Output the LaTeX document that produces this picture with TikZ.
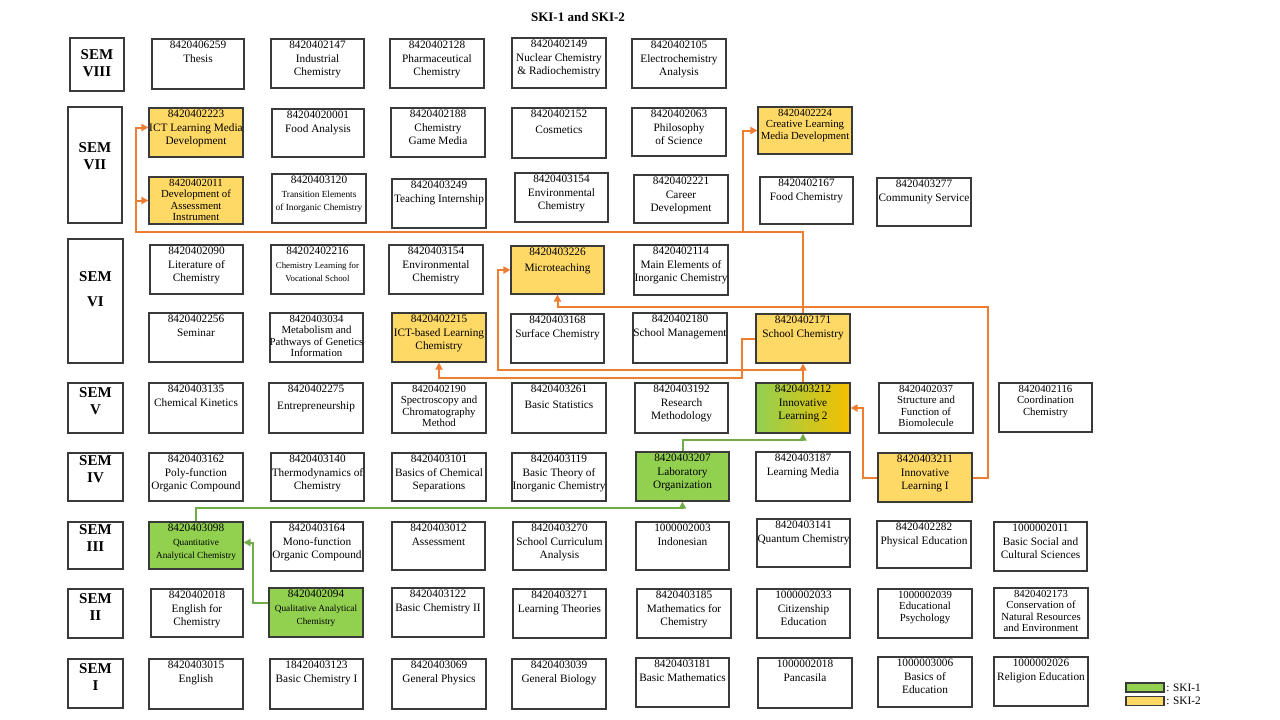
\documentclass[tikz,border=0pt]{standalone}
\usepackage{fontspec}
\setmainfont{Liberation Serif}
\usetikzlibrary{arrows.meta,calc}
\definecolor{skigreen}{HTML}{92D050}
\definecolor{skiyellow}{HTML}{FFD966}
\definecolor{skigold}{HTML}{F5C000}
\definecolor{orangeline}{HTML}{ED7D31}
\definecolor{greenline}{HTML}{70AD47}
\definecolor{boxline}{HTML}{3A3A3A}
\newcommand{\crsbox}[8][]{%
  \pgfmathsetmacro{\crsw}{#5-#3}%
  \pgfmathsetmacro{\crsh}{#6-#4}%
  \node[cbox,minimum width=\crsw pt,minimum height=\crsh pt,#1,label={[lbl,#7]north:{#8}}] (#2) at ({(#3+#5)/2},{(#4+#6)/2}) {};%
}
\newcommand{\sembox}[7]{%
  \pgfmathsetmacro{\crsw}{#4-#2}%
  \pgfmathsetmacro{\crsh}{#5-#3}%
  \node[cbox,minimum width=\crsw pt,minimum height=\crsh pt,label={[semlbl,yshift=#6pt]center:{#7}}] (#1) at ({(#2+#4)/2},{(#3+#5)/2}) {};%
}
\tikzset{
  cbox/.style={draw=boxline, line width=1.1pt, fill=white, inner sep=0pt},
  lbl/.style={anchor=north, inner sep=2.6pt, align=center, font=\fontsize{11.3}{13.4}\selectfont},
  tightf/.style={font=\fontsize{10.8}{11.4}\selectfont},
  semlbl/.style={anchor=center, align=center, font=\bfseries\fontsize{15}{17}\selectfont, inner sep=0pt},
  ski1/.style={fill=skigreen},
  ski2/.style={fill=skiyellow},
  oarrow/.style={draw=orangeline, line width=2pt, -{Triangle[length=7pt,width=7pt]}},
  garrow/.style={draw=greenline, line width=2pt, -{Triangle[length=7pt,width=7pt]}},
  legtxt/.style={anchor=west, inner sep=1.5pt, font=\fontsize{11.3}{13}\selectfont},
}
\begin{document}
\begin{tikzpicture}[x=1pt,y=-1pt]
\fill[white] (0,0) rectangle (1280,720);
\useasboundingbox (0,0) rectangle (1280,720);

\node[font=\bfseries\fontsize{13}{15}\selectfont, inner sep=0pt] (title) at (578,17) {SKI-1 and SKI-2};

% semester boxes
\sembox{sem8}{70}{38}{124}{91}{1.5}{SEM\\VIII}
\sembox{sem7}{68}{107}{122}{223}{9}{SEM\\VII}
\sembox{sem6}{68}{239}{123}{363}{11.5}{SEM\\[8pt]VI}
\sembox{sem5}{68}{383}{123}{433}{7}{SEM\\V}
\sembox{sem4}{68}{453}{123}{501}{7.5}{SEM\\IV}
\sembox{sem3}{68}{522}{123}{569}{7}{SEM\\III}
\sembox{sem2}{68}{589}{123}{638}{6}{SEM\\II}
\sembox{sem1}{68}{659}{123}{708}{6.5}{SEM\\I}

% SEM VIII
\crsbox{thesis}{152}{39}{244}{89}{}{8420406259\\Thesis}
\crsbox{indchem}{271}{39}{364}{88}{}{8420402147\\Industrial\\Chemistry}
\crsbox{pharm}{390}{39}{484}{88}{}{8420402128\\Pharmaceutical\\Chemistry}
\crsbox{nuclear}{512}{38}{606}{88}{}{8420402149\\Nuclear Chemistry\\\& Radiochemistry}
\crsbox{electro}{632}{39}{726}{88}{}{8420402105\\Electrochemistry\\Analysis}

% SEM VII
\crsbox[ski2]{ictlmd}{149}{108}{243}{157}{}{8420402223\\ICT Learning Media\\Development}
\crsbox{foodan}{272}{109}{364}{157}{}{84204020001\\Food Analysis}
\crsbox{gamemedia}{391}{108}{485}{157}{}{8420402188\\Chemistry\\Game Media}
\crsbox{cosmetics}{512}{108}{606}{158}{}{8420402152\\[2pt]Cosmetics}
\crsbox{philosophy}{632}{108}{726}{156}{}{8420402063\\Philosophy\\of Science}
\crsbox[ski2]{creative}{758}{107}{852}{154}{tightf}{8420402224\\Creative Learning\\Media Development}
\crsbox[ski2]{devassess}{149}{177}{243}{224}{tightf}{8420402011\\Development of\\Assessment\\Instrument}
\crsbox{transition}{272}{174}{366}{223}{}{8420403120\\{\fontsize{9.3}{11}\selectfont Transition Elements}\\{\fontsize{9.3}{11}\selectfont of Inorganic Chemistry}}
\crsbox{internship}{392}{179}{486}{228}{}{8420403249\\Teaching Internship}
\crsbox{envchemVII}{515}{173}{608}{222}{}{8420403154\\Environmental\\Chemistry}
\crsbox{career}{634}{175}{728}{223}{}{8420402221\\Career\\Development}
\crsbox{foodchem}{760}{177}{853}{224}{}{8420402167\\Food Chemistry}
\crsbox{community}{877}{178}{971}{226}{}{8420403277\\Community Service}

% SEM VI
\crsbox{literature}{150}{245}{243}{294}{}{8420402090\\Literature of\\Chemistry}
\crsbox{vocational}{271}{245}{364}{294}{}{84202402216\\{\fontsize{8.8}{10.5}\selectfont Chemistry Learning for}\\{\fontsize{8.8}{10.5}\selectfont Vocational School}}
\crsbox{envchemVI}{389}{245}{483}{294}{}{8420403154\\Environmental\\Chemistry}
\crsbox[ski2]{microteaching}{511}{246}{604}{294}{}{8420403226\\[2pt]Microteaching}
\crsbox{mainelem}{634}{245}{728}{295}{}{8420402114\\Main Elements of\\Inorganic Chemistry}
\crsbox{seminar}{149}{313}{243}{362}{}{8420402256\\Seminar}
\crsbox{metabolism}{270}{313}{363}{362}{tightf}{8420403034\\Metabolism and\\Pathways of Genetics\\Information}
\crsbox[ski2]{ictbased}{392}{313}{486}{362}{}{8420402215\\ICT-based Learning\\Chemistry}
\crsbox{surface}{511}{314}{604}{363}{}{8420403168\\Surface Chemistry}
\crsbox{schoolmgmt}{633}{313}{727}{363}{}{8420402180\\School Management}
\crsbox[ski2]{schoolchem}{756}{314}{850}{363}{}{8420402171\\School Chemistry}

% SEM V
\crsbox{kinetics}{149}{383}{243}{433}{}{8420403135\\Chemical Kinetics}
\crsbox{entrepreneur}{269}{383}{363}{433}{}{8420402275\\[3pt]Entrepreneurship}
\crsbox{spectro}{392}{383}{486}{433}{tightf}{8420402190\\Spectroscopy and\\Chromatography\\Method}
\crsbox{statistics}{512}{383}{606}{433}{}{8420403261\\[2pt]Basic Statistics}
\crsbox{research}{635}{383}{728}{433}{}{8420403192\\Research\\Methodology}
\crsbox[left color=skigreen,right color=skigold]{innov2}{756}{383}{850}{433}{}{8420403212\\Innovative\\Learning 2}
\crsbox{structure}{879}{383}{973}{433}{tightf}{8420402037\\Structure and\\Function of\\Biomolecule}
\crsbox{coordination}{999}{383}{1092}{432}{tightf}{8420402116\\Coordination\\Chemistry}

% SEM IV
\crsbox{polyfunc}{149}{453}{243}{501}{}{8420403162\\Poly-function\\Organic Compound}
\crsbox{thermo}{271}{453}{364}{501}{}{8420403140\\Thermodynamics of\\Chemistry}
\crsbox{separations}{392}{453}{486}{501}{}{8420403101\\Basics of Chemical\\Separations}
\crsbox{inorgtheory}{512}{453}{606}{501}{}{8420403119\\Basic Theory of\\Inorganic Chemistry}
\crsbox[ski1]{laborg}{636}{452}{729}{501}{}{8420403207\\Laboratory\\Organization}
\crsbox{learnmedia}{756}{452}{850}{501}{}{8420403187\\Learning Media}
\crsbox[ski2]{innov1}{878}{453}{972}{502}{}{8420403211\\Innovative\\Learning I}

% SEM III
\crsbox[ski1]{quantitative}{149}{522}{243}{569}{}{8420403098\\{\fontsize{9.3}{11}\selectfont Quantitative}\\{\fontsize{9.3}{11}\selectfont Analytical Chemistry}}
\crsbox{monofunc}{271}{522}{363}{571}{}{8420403164\\Mono-function\\Organic Compound}
\crsbox{assessment}{392}{522}{485}{570}{}{8420403012\\Assessment}
\crsbox{curriculum}{513}{522}{606}{570}{}{8420403270\\School Curriculum\\Analysis}
\crsbox{indonesian}{636}{522}{729}{570}{}{1000002003\\Indonesian}
\crsbox{quantum}{757}{519}{850}{567}{}{8420403141\\Quantum Chemistry}
\crsbox{physed}{877}{521}{971}{568}{}{8420402282\\Physical Education}
\crsbox{socialsci}{994}{522}{1087}{571}{}{1000002011\\Basic Social and\\Cultural Sciences}

% SEM II
\crsbox{engchem}{151}{589}{243}{637}{}{8420402018\\English for\\Chemistry}
\crsbox[ski1]{qualitative}{269}{588}{363}{637}{}{8420402094\\{\fontsize{9.3}{11}\selectfont Qualitative Analytical}\\{\fontsize{9.3}{11}\selectfont Chemistry}}
\crsbox{basicchem2}{392}{588}{484}{637}{}{8420403122\\Basic Chemistry II}
\crsbox{learntheories}{513}{589}{606}{638}{}{8420403271\\Learning Theories}
\crsbox{mathchem}{637}{589}{731}{638}{}{8420403185\\Mathematics for\\Chemistry}
\crsbox{citizenship}{757}{589}{850}{638}{}{1000002033\\Citizenship\\Education}
\crsbox{edpsych}{878}{589}{972}{638}{tightf}{1000002039\\Educational\\Psychology}
\crsbox{conservation}{994}{588}{1088}{638}{tightf}{8420402173\\Conservation of\\Natural Resources\\and Environment}

% SEM I
\crsbox{english}{149}{659}{243}{709}{}{8420403015\\English}
\crsbox{basicchem1}{270}{659}{363}{709}{}{18420403123\\Basic Chemistry I}
\crsbox{physics}{392}{659}{486}{709}{}{8420403069\\General Physics}
\crsbox{biology}{512}{659}{606}{709}{}{8420403039\\General Biology}
\crsbox{basicmath}{636}{658}{729}{707}{}{8420403181\\Basic Mathematics}
\crsbox{pancasila}{758}{658}{852}{708}{}{1000002018\\Pancasila}
\crsbox{basicsedu}{878}{657}{972}{707}{}{1000003006\\Basics of\\Education}
\crsbox{religion}{994}{657}{1088}{706}{}{1000002026\\Religion Education}

% junction coordinates
\coordinate (jA1) at (803,232);
\coordinate (jA2) at (136,232);
\coordinate (jA3) at (743,232);
\coordinate (jB) at (988,307);
\coordinate (jC) at (863,408);
\coordinate (jE1) at (803,370);
\coordinate (jE2) at (498,370);
\coordinate (jF) at (742,378);

% orange connectors
\draw[oarrow] (schoolchem.north) -- (jA1) -- (jA2) |- ([yshift=5pt]ictlmd.west);
\draw[oarrow] (jA2) |- (devassess.west);
\draw[oarrow] (jA3) |- (creative.west);
\draw[oarrow] (innov1.east) -| (jB) -| (microteaching.south);
\draw[oarrow] (innov1.west) -| (jC) -- (innov2.east);
\draw[oarrow] (innov2.north) -- (schoolchem.south);
\draw[oarrow] (jE1) -- (jE2) |- (microteaching.west);
\draw[oarrow] (schoolchem.west) -| (jF) -| (ictbased.south);

% green connectors
\draw[garrow] ([yshift=10pt]qualitative.west) -- ++(-15,0) |- ([yshift=3pt]quantitative.east);
\draw[garrow] (quantitative.north) -- ++(0,-13) -| (laborg.south);
\draw[garrow] (laborg.north) -- ++(0,-11) -| (innov2.south);

% legend
\node[cbox, ski1, minimum width=38pt, minimum height=9pt] (leg1) at (1145,687.5) {};
\node[cbox, ski2, minimum width=38pt, minimum height=9pt] (leg2) at (1145,701) {};
\node[legtxt] (leg1t) at (leg1.east) {: SKI-1};
\node[legtxt] (leg2t) at (leg2.east) {: SKI-2};
\end{tikzpicture}
\end{document}
